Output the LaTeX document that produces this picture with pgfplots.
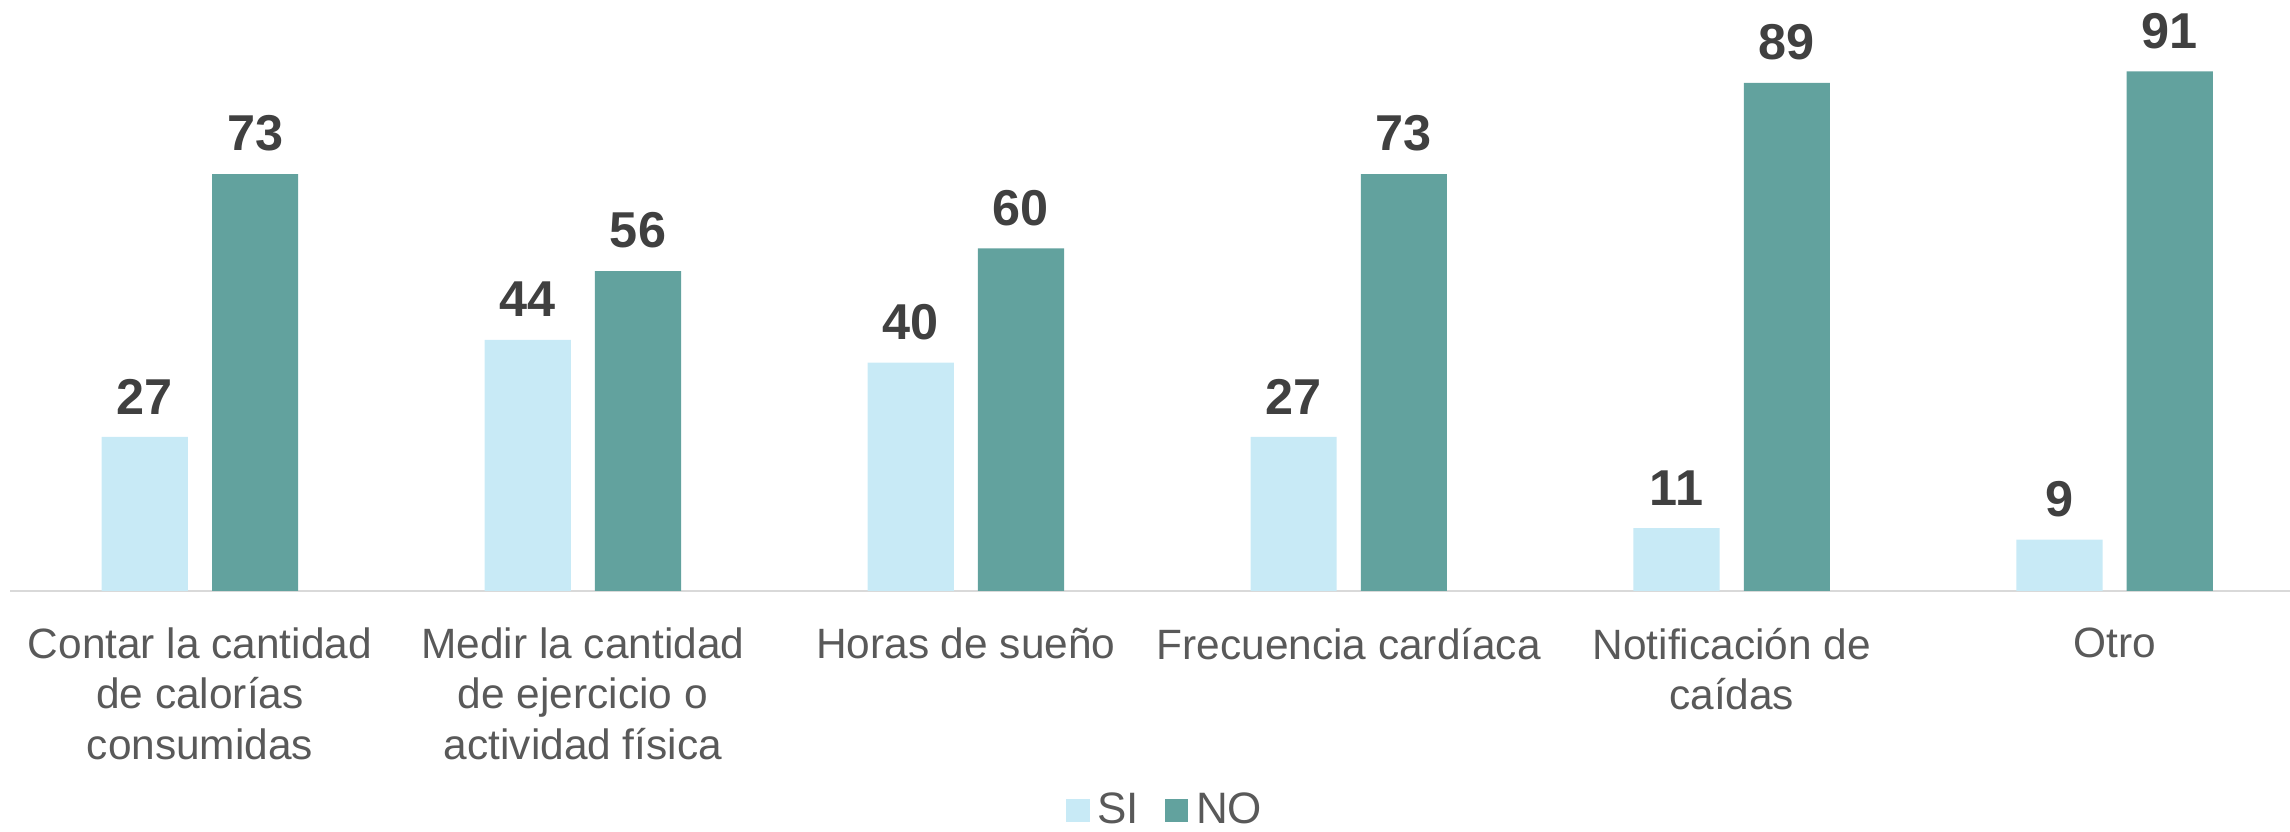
\documentclass[border=0pt]{standalone}
\usepackage{pgfplots}
\pgfplotsset{compat=1.18}
\usepackage{fontspec}
\setmainfont{Liberation Sans}
\definecolor{siC}{HTML}{C8EAF6}
\definecolor{noC}{HTML}{62A29E}
\definecolor{lblC}{HTML}{595959}
\definecolor{valC}{HTML}{404040}
\definecolor{axC}{HTML}{D9D9D9}
\begin{document}
\begin{tikzpicture}
\useasboundingbox (0bp,0bp) rectangle (572.5bp,208bp);
\begin{axis}[
  at={(2.5bp,60.25bp)}, anchor=south west,
  scale only axis, width=570bp, height=142.75bp,
  xmin=-0.496, xmax=5.458, ymin=0, ymax=100,
  hide y axis,
  axis x line*=bottom,
  x axis line style={draw=axC, line width=0.6bp},
  xtick={0,1,2,3,4,5},
  xticklabels={{Contar la cantidad\\de calorías\\consumidas},{Medir la cantidad\\de ejercicio o\\actividad física},{Horas de sueño},{Frecuencia cardíaca},{Notificación de\\caídas},{Otro}},
  major tick length=0,
  xticklabel style={font=\fontsize{10.6bp}{12.6bp}\selectfont, text=lblC, align=center, anchor=north, inner sep=0pt, yshift=-9bp},
  /pgf/number format/assume math mode=true,
  ybar, bar width=0.225,
  nodes near coords,
  every node near coord/.append style={font=\fontsize{12.6bp}{14bp}\selectfont\bfseries, text=valC, anchor=south, inner sep=0pt, yshift=5.5bp},
  legend columns=2,
  legend style={draw=none, fill=none, at={(0.508,-0.385)}, anchor=center,
    font=\fontsize{11bp}{12bp}\selectfont, text=lblC,
    /tikz/every even column/.append style={column sep=4.5bp},
    inner sep=0pt},
  legend image code/.code={\fill[#1] (0bp,-2.9bp) rectangle (5.8bp,2.9bp);},
]
\addplot[fill=siC, draw=none, bar shift=-0.144] coordinates {(0,27) (1,44) (2,40) (3,27) (4,11) (5,9)};
\addlegendentry{SI}
\addplot[fill=noC, draw=none, bar shift=0.144] coordinates {(0,73) (1,56) (2,60) (3,73) (4,89) (5,91)};
\addlegendentry{NO}
\end{axis}
\end{tikzpicture}
\end{document}
